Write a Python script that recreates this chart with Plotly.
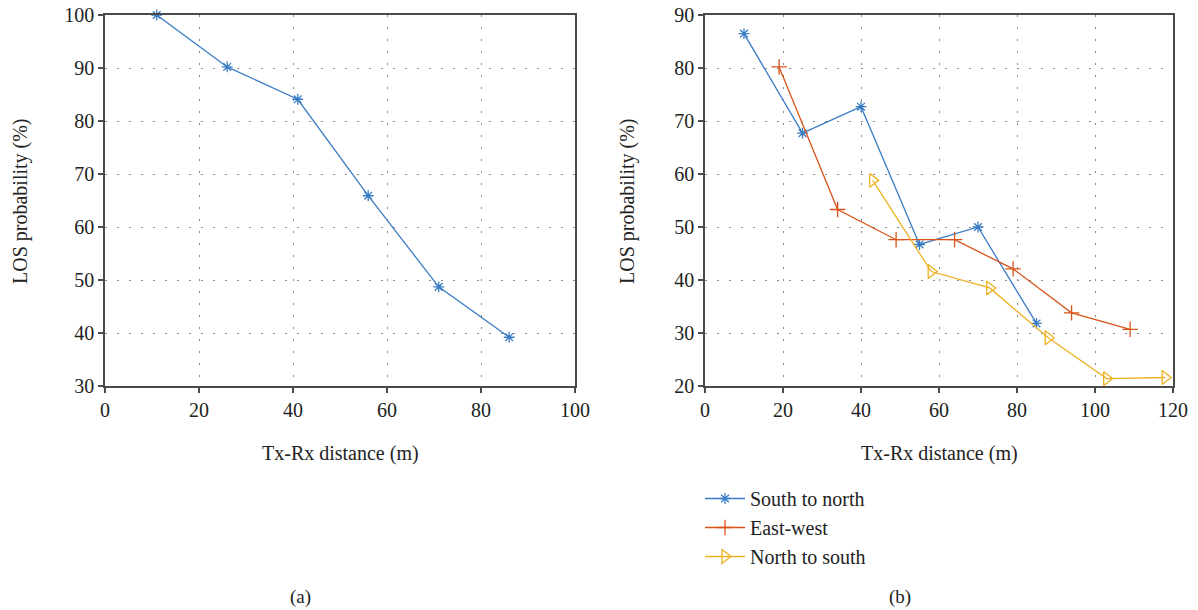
import plotly.graph_objects as go

# Panel (a)
a_dist = [11, 26, 41, 56, 71, 86]
a_prob = [100, 90.2, 84.1, 65.9, 48.7, 39.2]

# Panel (b)
sn_dist = [10, 25, 40, 55, 70, 85]
sn_prob = [86.5, 67.7, 72.7, 46.7, 50.0, 31.8]
ew_dist = [19, 34, 49, 64, 79, 94, 109]
ew_prob = [80.2, 53.3, 47.6, 47.6, 42.1, 33.8, 30.7]
ns_dist = [43, 58, 73, 88, 103, 118]
ns_prob = [58.8, 41.6, 38.5, 29.1, 21.4, 21.6]

series_names = ["South to north", "East-west", "North to south"]
BLUE = "#3a7cc4"
RED = "#d95319"
YELLOW = "#edb120"
FONT = "Liberation Serif"
TXT = "#222222"

fig = go.Figure()

fig.add_trace(go.Scatter(
    x=a_dist, y=a_prob, mode="lines+markers", showlegend=False,
    line=dict(color=BLUE, width=1.3),
    marker=dict(symbol="asterisk-open", size=9, color=BLUE, line=dict(color=BLUE, width=1.3)),
    xaxis="x", yaxis="y", cliponaxis=False))

fig.add_trace(go.Scatter(
    x=sn_dist, y=sn_prob, mode="lines+markers", name=series_names[0],
    line=dict(color=BLUE, width=1.3),
    marker=dict(symbol="asterisk-open", size=9, color=BLUE, line=dict(color=BLUE, width=1.3)),
    xaxis="x2", yaxis="y2", cliponaxis=False))
fig.add_trace(go.Scatter(
    x=ew_dist, y=ew_prob, mode="lines+markers", name=series_names[1],
    line=dict(color=RED, width=1.3),
    marker=dict(symbol="cross-thin-open", size=11, color=RED, line=dict(color=RED, width=1.3)),
    xaxis="x2", yaxis="y2", cliponaxis=False))
fig.add_trace(go.Scatter(
    x=ns_dist, y=ns_prob, mode="lines+markers", name=series_names[2],
    line=dict(color=YELLOW, width=1.3),
    marker=dict(symbol="triangle-right-open", size=12, color=YELLOW, line=dict(color=YELLOW, width=1.3)),
    xaxis="x2", yaxis="y2", cliponaxis=False))

# the page puts the figure 8px in from the top-left corner
OFF = 8
W, H = 1198 - OFF, 610 - OFF
def px_x(p):
    return (p - OFF) / W
def px_y(p):
    return 1 - (p - OFF) / H

axis_common = dict(
    showline=True, linecolor="#4a4a4a", linewidth=1.5, mirror=True,
    ticks="outside", ticklen=5, tickcolor="#4a4a4a", tickwidth=1.5,
    showgrid=True, gridcolor="#888888", gridwidth=1, griddash="2px,10px",
    zeroline=False, automargin=False, ticklabeloverflow="allow",
    tickfont=dict(family=FONT, size=20, color=TXT),
)

fig.update_layout(
    width=W, height=H,
    margin=dict(l=0, r=0, t=0, b=0, autoexpand=False),
    paper_bgcolor="white", plot_bgcolor="white",
    font=dict(family=FONT, size=20, color=TXT),
    xaxis=dict(domain=[px_x(105), px_x(575)], range=[0, 100], dtick=20, anchor="y", **axis_common),
    yaxis=dict(domain=[px_y(386), px_y(15)], range=[30, 100], dtick=10, anchor="x", **axis_common),
    xaxis2=dict(domain=[px_x(705), px_x(1173)], range=[0, 120], dtick=20, anchor="y2", **axis_common),
    yaxis2=dict(domain=[px_y(386), px_y(15)], range=[20, 90], dtick=10, anchor="x2", **axis_common),
    legend=dict(x=px_x(700), y=px_y(479), xanchor="left", yanchor="top",
                font=dict(family=FONT, size=20, color=TXT),
                bgcolor="rgba(0,0,0,0)", itemwidth=40),
    showlegend=True,
)

def label(text, x, y, size=20, angle=0):
    return dict(text=text, x=px_x(x), y=px_y(y), xref="paper", yref="paper",
                xanchor="center", yanchor="middle", showarrow=False, textangle=angle,
                font=dict(family=FONT, size=size, color=TXT))

annots = [
    label("Tx-Rx distance (m)", 340, 453),
    label("Tx-Rx distance (m)", 939, 453),
    label("LOS probability (%)", 21, 201, angle=-90),
    label("LOS probability (%)", 628, 201, angle=-90),
    label("(a)", 300, 597, size=19),
    label("(b)", 900, 597, size=19),
]
fig.update_layout(annotations=annots)

fig.write_html("out.html")
